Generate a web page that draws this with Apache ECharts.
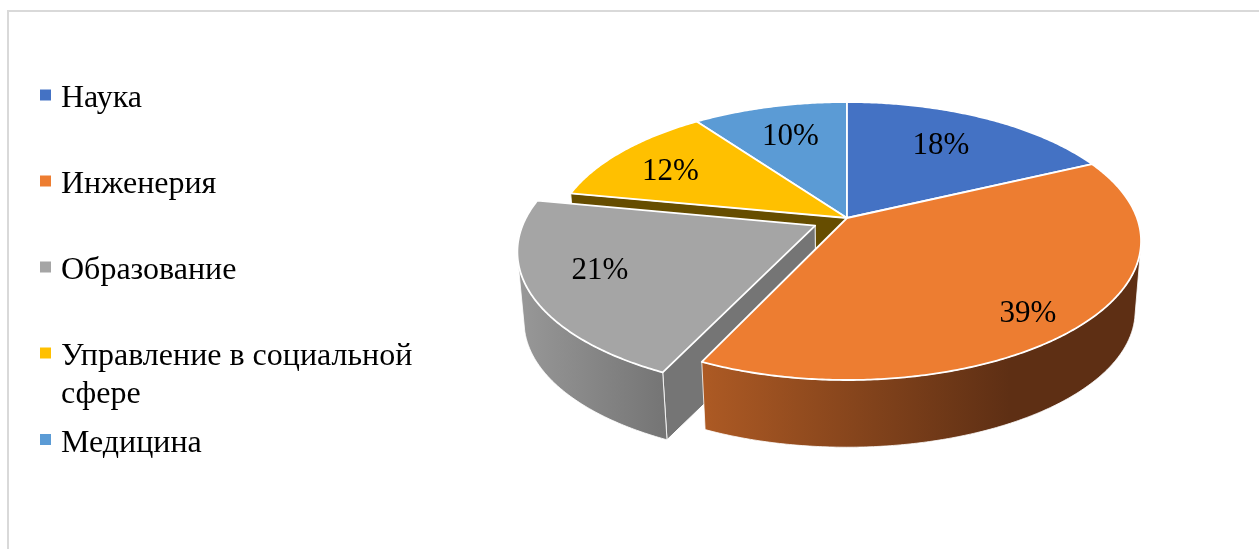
<!DOCTYPE html>
<html><head><meta charset="utf-8">
<style>html,body{margin:0;padding:0;background:#fff}#c{width:1259px;height:549px}</style>
<script src="https://cdn.jsdelivr.net/npm/echarts@6/dist/echarts.min.js"></script>
</head><body><div id="c"></div>
<script>
const categories = ['Наука','Инженерия','Образование','Управление в социальной сфере','Медицина'];
const shares = [18,39,21,12,10];
const colors = ['#4472c4','#ed7d31','#a5a5a5','#ffc000','#5b9bd5'];
const explodes = [0,0,0.122,0,0];
const labelRadius = [0.66,0.8,0.77,0.77,0.7];
const labelDy = [-3,11,-6,6,0];
const drawOrder = [4,0,3,2,1];
const wallColors = ['#2f4f88','#5e2f14','#757575','#664d00','#3f6b94'];
const sideStops = {
  1:{x0:702,x1:1010,c0:'#ad5a24',c1:'#5e2f14'},
  2:{x0:518,x1:668,c0:'#989898',c1:'#747474'}
};
const legendCenters = [94.5,180.5,266.5,352.5,439];
const legendLines = {'Управление в социальной сфере':['Управление в социальной','сфере']};

// Perspective model of the disc
const P = {cx:847, top:218, bot:289, rx:290, ry:135.2, k:0.1655, m:0.02};
const total = shares.reduce((a,b)=>a+b,0);
function proj(u,v,lower){
  const s = 1/(1+P.k*v+(lower?P.m:0));
  return [P.cx+P.rx*u*s,(lower?P.bot:P.top)-P.ry*v*s];
}
function render(i){
  return function(params,api){
    const value = api.value(0);
    let before = 0; for(let j=0;j<i;j++) before += shares[j];
    const a0 = before/total*2*Math.PI, a1 = (before+value)/total*2*Math.PI, mid=(a0+a1)/2;
    const ox = explodes[i]*Math.sin(mid), oy = explodes[i]*Math.cos(mid);
    const pt = (a,r,low)=>proj(ox+r*Math.sin(a),oy+r*Math.cos(a),low);
    const topArc=[], frontTop=[], frontLow=[];
    const n = Math.max(8,Math.ceil((a1-a0)/0.01));
    for(let t=0;t<=n;t++){
      const a=a0+(a1-a0)*t/n, p=pt(a,1,false), q=pt(a,1,true);
      topArc.push(p);
      const p2=pt(a+0.002,1,false);
      const cross=(p2[0]-p[0])*(q[1]-p[1])-(p2[1]-p[1])*(q[0]-p[0]);
      if(cross<0){frontTop.push(p);frontLow.push(q);}
    }
    const apexT=pt(0,0,false), apexB=pt(0,0,true);
    const children=[];
    const edge={stroke:'#fff',lineWidth:1,lineJoin:'round'};
    // radial walls that face the viewer
    [[a0,-1],[a1,1]].forEach(([a,dir])=>{
      if(Math.cos(a+dir*Math.PI/2)<-0.01){
        children.push({type:'polygon',shape:{points:[apexT,pt(a,1,false),pt(a,1,true),apexB]},
          style:Object.assign({fill:wallColors[i]},edge)});
      }
    });
    // rim (only the part turned to the viewer)
    if(frontTop.length>1){
      const st=sideStops[i];
      const fill = st ? new echarts.graphic.LinearGradient(st.x0,0,st.x1,0,[{offset:0,color:st.c0},{offset:1,color:st.c1}],true) : wallColors[i];
      children.push({type:'polygon',shape:{points:frontTop.concat(frontLow.reverse())},
        style:{fill:fill,stroke:'#fff',lineWidth:0.8}});
    }
    // top face
    children.push({type:'polygon',shape:{points:[apexT].concat(topArc)},
      style:{fill:colors[i],stroke:'#fff',lineWidth:1.8,lineJoin:'round'}});
    const lp=pt(mid,labelRadius[i],false);
    children.push({type:'text',z2:10,style:{text:value+'%',x:lp[0],y:lp[1]+labelDy[i],align:'center',verticalAlign:'middle',
      fontFamily:'"Liberation Serif"',fontSize:31,fill:'#000'}});
    return {type:'group',children};
  };
}
const seriesList = drawOrder.map(i=>({
  type:'custom',name:categories[i],coordinateSystem:'none',
  data:[[shares[i]]],itemStyle:{color:colors[i]},silent:true,
  renderItem:render(i),animation:false
}));
const LINE=38, DROP=8;
const legends = categories.map((name,i)=>{
  const lines = legendLines[name]||[name];
  // a leading spacer line keeps the marker level with the first text line
  const spacer = (lines.length-1)*LINE+DROP;
  return {show:true,orient:'vertical',left:40,top:legendCenters[i]-lines.length*LINE/2,padding:0,
    icon:'rect',itemWidth:11,itemHeight:11,selectedMode:false,data:[name],
    formatter:()=>'{s|\u00a0}\n'+lines.map(l=>'{t|'+l+'}').join('\n'),
    textStyle:{padding:[0,0,0,5],rich:{
      s:{fontSize:1,lineHeight:spacer,width:1},
      t:{fontFamily:'"Liberation Serif"',fontSize:32,color:'#000',lineHeight:LINE}
    }}};
});
const chart = echarts.init(document.getElementById('c'),null,{renderer:'canvas'});
chart.setOption({
  backgroundColor:'#fff',animation:false,
  graphic:[{type:'rect',z:-1,silent:true,shape:{x:8,y:11,width:1400,height:800},style:{fill:'#fff',stroke:'#d9d9d9',lineWidth:2}}],
  legend:legends,
  series:seriesList
});
</script></body></html>
